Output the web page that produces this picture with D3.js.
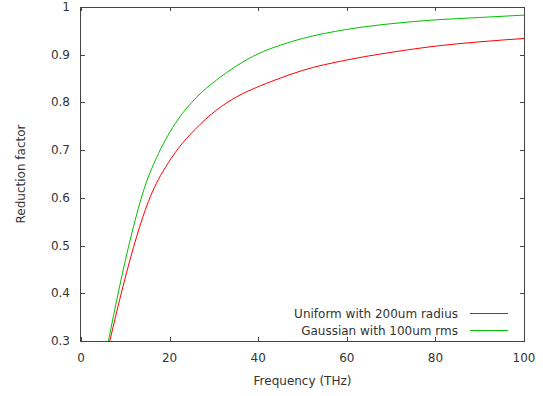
<!DOCTYPE html>
<html>
<head>
<meta charset="utf-8">
<script src="https://cdn.jsdelivr.net/npm/d3@7"></script>
<style>
  body { margin: 0; background: white; }
  text { font-family: "DejaVu Sans", sans-serif; font-size: 12px; fill: #333; }
</style>
</head>
<body>
<div id="chart-container"></div>
<script>
// values
var uniformFreq = [6.5, 9.5, 12.6, 15.2, 17, 19.0, 22, 25.7, 30.6, 35, 40, 45, 50, 60, 70, 80, 90, 100]
var uniformVals = [0.30, 0.415, 0.520, 0.592, 0.630, 0.663, 0.704, 0.743, 0.784, 0.811, 0.833, 0.851, 0.867, 0.889, 0.905, 0.918, 0.927, 0.934]

var gaussFreq = [6.2, 8.5, 11.5, 14.4, 17.5, 21.8, 26, 30.6, 35, 40, 45, 50, 60, 70, 80, 90, 100]
var gaussVals = [0.30, 0.405, 0.527, 0.623, 0.693, 0.763, 0.810, 0.847, 0.876, 0.902, 0.920, 0.934, 0.953, 0.965, 0.973, 0.978, 0.983]

var xTicks = [0, 20, 40, 60, 80, 100]
var yTicks = [0.3, 0.4, 0.5, 0.6, 0.7, 0.8, 0.9, 1]

var seriesNames = ['Uniform with 200um radius', 'Gaussian with 100um rms']
var seriesColours = ['#ff0000', '#00c000']

var width = 543, height = 396
var margin = {left: 81, right: 19, top: 7, bottom: 55}

var svg = d3.select('#chart-container')
  .append('svg')
  .attr('width', width)
  .attr('height', height)

var x = d3.scaleLinear().domain([0, 100]).range([margin.left, width - margin.right])
var y = d3.scaleLinear().domain([0.3, 1]).range([height - margin.bottom, margin.top])

var axisColour = '#444'
var tickLen = 4

// ticks, inward, mirrored on the opposite side
var gx = svg.append('g')
xTicks.forEach(function(t){
  var px = Math.round(x(t)) + 0.5
  gx.append('line').attr('x1', px).attr('x2', px)
    .attr('y1', y(0.3)).attr('y2', y(0.3) - tickLen).attr('stroke', axisColour)
  gx.append('line').attr('x1', px).attr('x2', px)
    .attr('y1', y(1)).attr('y2', y(1) + tickLen).attr('stroke', axisColour)
  gx.append('text').text(d3.format('d')(t))
    .attr('x', x(t)).attr('y', y(0.3) + 21)
    .attr('text-anchor', 'middle')
})

var gy = svg.append('g')
yTicks.forEach(function(t){
  var py = Math.round(y(t)) + 0.5
  gy.append('line').attr('y1', py).attr('y2', py)
    .attr('x1', x(0)).attr('x2', x(0) + tickLen).attr('stroke', axisColour)
  gy.append('line').attr('y1', py).attr('y2', py)
    .attr('x1', x(100)).attr('x2', x(100) - tickLen).attr('stroke', axisColour)
  gy.append('text').text(t === 1 ? '1' : d3.format('.1f')(t))
    .attr('x', x(0) - 11).attr('y', y(t) + 4)
    .attr('text-anchor', 'end')
})

svg.append('defs').append('clipPath').attr('id', 'plot-clip')
  .append('rect')
  .attr('x', x(0)).attr('y', y(1))
  .attr('width', x(100) - x(0)).attr('height', y(0.3) - y(1))

var line = d3.line()
  .x(function(d){ return x(d[0]) })
  .y(function(d){ return y(d[1]) })
  .curve(d3.curveMonotoneX)

var series = [
  d3.zip(uniformFreq, uniformVals),
  d3.zip(gaussFreq, gaussVals)
]

svg.append('g')
  .attr('clip-path', 'url(#plot-clip)')
  .selectAll('path')
  .data(series)
  .enter().append('path')
    .attr('d', line)
    .attr('fill', 'none')
    .attr('stroke', function(d, i){ return seriesColours[i] })
    .attr('stroke-width', 1)

// border box
svg.append('rect')
  .attr('x', Math.round(x(0)) - 0.5).attr('y', Math.round(y(1)) + 0.5)
  .attr('width', Math.round(x(100) - x(0)) + 1).attr('height', Math.round(y(0.3) - y(1)))
  .attr('fill', 'none')
  .attr('stroke', axisColour)

// legend
var legendY = [313.5, 330.5]
seriesNames.forEach(function(name, i){
  svg.append('text').text(name)
    .attr('x', 458).attr('y', legendY[i] + 4)
    .attr('text-anchor', 'end')
  svg.append('line')
    .attr('x1', 470).attr('x2', 508)
    .attr('y1', legendY[i]).attr('y2', legendY[i])
    .attr('stroke', seriesColours[i])
})

// axis labels
svg.append('text').text('Frequency (THz)')
  .attr('x', (x(0) + x(100)) / 2).attr('y', 385)
  .attr('text-anchor', 'middle')

svg.append('text').text('Reduction factor')
  .attr('transform', 'translate(25,' + ((y(0.3) + y(1)) / 2) + ') rotate(-90)')
  .attr('text-anchor', 'middle')
</script>
</body>
</html>
